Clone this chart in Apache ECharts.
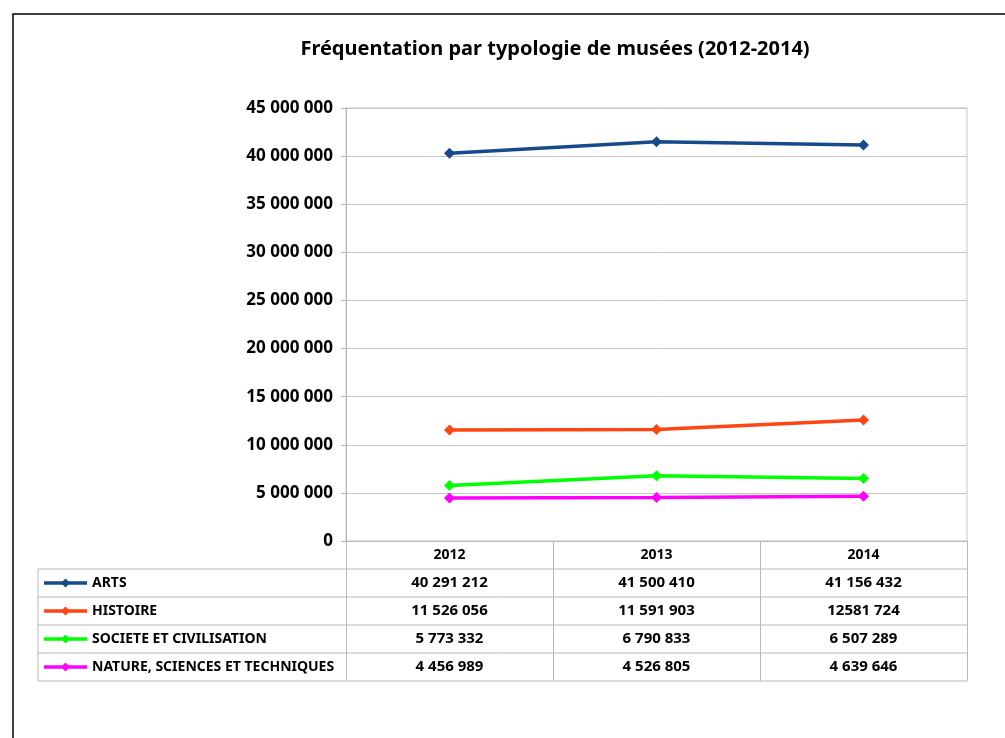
<!DOCTYPE html>
<html>
<head>
<meta charset="utf-8">
<script src="https://cdn.jsdelivr.net/npm/echarts@6/dist/echarts.min.js"></script>
<style>
  html, body { margin: 0; background: #fff; }
  #chart { width: 1005px; height: 738px; }
</style>
</head>
<body>
<div id="chart"></div>
<script>
// data
var years = ['2012', '2013', '2014']
var seriesNames = ['ARTS', 'HISTOIRE', 'SOCIETE ET CIVILISATION', 'NATURE, SCIENCES ET TECHNIQUES']
var arts = [40291212, 41500410, 41156432]
var histoire = [11526056, 11591903, 12581724]
var societe = [5773332, 6790833, 6507289]
var nature = [4456989, 4526805, 4639646]
// cell text as printed in the table (note the odd "12581 724")
var cellText = [
  ['40 291 212', '41 500 410', '41 156 432'],
  ['11 526 056', '11 591 903', '12581 724'],
  ['5 773 332', '6 790 833', '6 507 289'],
  ['4 456 989', '4 526 805', '4 639 646']
]
var colors = ['#174a8b', '#ff4511', '#00ff00', '#ff00ff']

var FONT = '"Noto Sans", sans-serif'
var gridLeft = 346, gridRight = 38, gridTop = 108, gridBottom = 197
var rowH = 28
var tableLeft = 38

function fmt(v) {
  return String(v).replace(/\B(?=(\d{3})+(?!\d))/g, ' ')
}

var chart = echarts.init(document.getElementById('chart'))

var allData = [arts, histoire, societe, nature]

chart.setOption({
  animation: false,
  backgroundColor: '#fff',
  title: {
    text: 'Fréquentation par typologie de musées (2012-2014)',
    left: 550,
    textAlign: 'center',
    top: 34,
    textStyle: { fontFamily: FONT, fontWeight: 'bold', fontSize: 20, color: '#000' }
  },
  grid: {
    left: gridLeft, right: gridRight, top: gridTop, bottom: gridBottom,
    show: true, borderColor: '#c6c6c6', borderWidth: 1
  },
  xAxis: {
    type: 'category',
    data: years,
    boundaryGap: true,
    axisLine: { lineStyle: { color: '#b8b8b8', width: 1 } },
    axisTick: { show: true, interval: 0, length: rowH * 5, lineStyle: { color: '#b8b8b8' } },
    axisLabel: {
      margin: 7,
      fontFamily: FONT, fontWeight: 'bold', fontSize: 14, color: '#000'
    }
  },
  yAxis: {
    type: 'value',
    min: 0, max: 45000000, interval: 5000000,
    axisLine: { show: true, lineStyle: { color: '#b8b8b8' } },
    axisTick: { show: true, length: 5, lineStyle: { color: '#b8b8b8' } },
    splitLine: { lineStyle: { color: '#c6c6c6' } },
    axisLabel: {
      margin: 13,
      fontFamily: FONT, fontWeight: 'bold', fontSize: 17, color: '#000',
      formatter: fmt
    }
  },
  series: seriesNames.map(function (name, i) {
    return {
      name: name,
      type: 'line',
      data: allData[i],
      symbol: 'diamond',
      symbolSize: 11,
      lineStyle: { color: colors[i], width: 3.5 },
      itemStyle: { color: colors[i] }
    }
  })
})

// data table under the plot, positioned from the axis
var W = chart.getWidth(), H = chart.getHeight()
var axisY = H - gridBottom
var plotRight = W - gridRight
var g = []

// frame around the whole chart (top + left visible)
g.push({
  type: 'polyline',
  shape: { points: [[13, H], [13, 14], [W, 14]] },
  style: { stroke: '#000', lineWidth: 1.5, fill: null }
})

for (var r = 0; r <= seriesNames.length; r++) {
  var y = axisY + rowH * (r + 1)
  g.push({
    type: 'line',
    shape: { x1: tableLeft, y1: y, x2: plotRight, y2: y },
    style: { stroke: '#b8b8b8', lineWidth: 1 }
  })
}
g.push({
  type: 'line',
  shape: { x1: tableLeft, y1: axisY + rowH, x2: tableLeft, y2: axisY + rowH * 5 },
  style: { stroke: '#b8b8b8', lineWidth: 1 }
})

seriesNames.forEach(function (name, i) {
  var cy = axisY + rowH * (i + 1) + rowH / 2
  g.push({
    type: 'line',
    shape: { x1: 44, y1: cy, x2: 87, y2: cy },
    style: { stroke: colors[i], lineWidth: 3.5 }
  })
  g.push({
    type: 'polygon',
    shape: { points: [[65.5, cy - 4.5], [70, cy], [65.5, cy + 4.5], [61, cy]] },
    style: { fill: colors[i] }
  })
  g.push({
    type: 'text',
    x: 92, y: cy,
    style: {
      text: name, fontFamily: FONT, fontWeight: 'bold', fontSize: 14,
      fill: '#000', verticalAlign: 'middle'
    }
  })
  years.forEach(function (yr, j) {
    var cx = chart.convertToPixel({ xAxisIndex: 0 }, yr)
    g.push({
      type: 'text',
      x: cx, y: cy,
      style: {
        text: cellText[i][j], fontFamily: FONT, fontWeight: 'bold', fontSize: 15,
        fill: '#000', align: 'center', verticalAlign: 'middle'
      }
    })
  })
})

chart.setOption({ graphic: g })
</script>
</body>
</html>
